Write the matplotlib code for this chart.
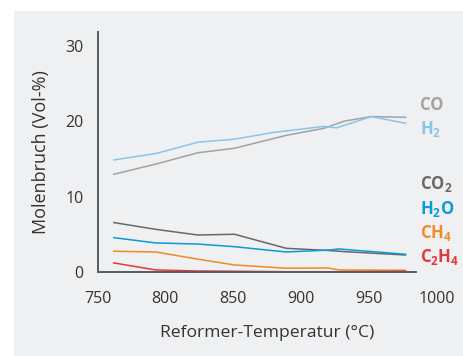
import matplotlib
matplotlib.use("Agg")
import matplotlib.pyplot as plt
from matplotlib.patches import Rectangle

plt.rcParams['font.family'] = ['Open Sans', 'DejaVu Sans']
plt.rcParams['mathtext.fontset'] = 'custom'
plt.rcParams['mathtext.rm'] = 'Open Sans:bold'
plt.rcParams['mathtext.bf'] = 'Open Sans:bold'
plt.rcParams['mathtext.default'] = 'rm'

# Reformer-Temperatur (°C) und Molenbruch (Vol-%)
t_co = [762, 793, 824, 851, 889, 917, 932, 952, 977]
co = [12.95, 14.3, 15.8, 16.4, 18.1, 19.05, 20.0, 20.6, 20.5]

t_h2 = [762, 793, 824, 851, 880, 917, 926, 952, 977]
h2 = [14.85, 15.7, 17.2, 17.6, 18.5, 19.3, 19.1, 20.6, 19.7]

t_co2 = [762, 793, 824, 851, 889, 920, 932, 977]
co2 = [6.55, 5.65, 4.9, 5.0, 3.14, 2.85, 2.7, 2.25]

t_h2o = [762, 793, 824, 851, 889, 920, 928, 977]
h2o = [4.55, 3.85, 3.7, 3.35, 2.65, 2.9, 3.05, 2.35]

t_ch4 = [762, 793, 824, 851, 889, 920, 928, 977]
ch4 = [2.75, 2.65, 1.7, 0.93, 0.5, 0.53, 0.27, 0.23]

t_c2h4 = [762, 793, 824, 851, 889, 920, 977]
c2h4 = [1.2, 0.27, 0.13, 0.1, 0.03, 0.03, 0.1]

x_ticks = [750, 800, 850, 900, 950, 1000]
y_ticks = [0, 10, 20, 30]

labels = ["CO", "H$_2$", "CO$_2$", "H$_2$O", "CH$_4$", "C$_2$H$_4$"]
label_y = [22.1, 19.0, 11.7, 8.4, 5.2, 2.0]
colors = ["#a2a2a2", "#86c6ea", "#686868", "#0b9ad7", "#f08a24", "#e5383b"]

fig = plt.figure(figsize=(4.63, 3.56), dpi=100)
fig.patches.append(Rectangle((14 / 463, 0), 1, 1 - 11 / 356, transform=fig.transFigure,
                             facecolor="#eff0f2", edgecolor="none", zorder=-10))
ax = fig.add_axes([0.2106, 0.236, 0.7326, 0.674])
ax.set_facecolor("none")

series = [(t_co, co), (t_h2, h2), (t_co2, co2), (t_h2o, h2o), (t_ch4, ch4), (t_c2h4, c2h4)]
for (tx, vy), c in zip(series, colors):
    ax.plot(tx, vy, color=c, lw=1.1, solid_joinstyle="round")

for lab, ly, c in zip(labels, label_y, colors):
    ax.text(988, ly, lab, color=c, fontsize=12, fontweight="bold", va="center", ha="left")

ax.set_xlim(750, 1000)
ax.set_ylim(0, 31.8)
ax.set_xticks(x_ticks)
ax.set_yticks(y_ticks)
ax.tick_params(length=0, labelsize=11.5, labelcolor="#333333")
ax.tick_params(axis="x", pad=14)
ax.tick_params(axis="y", pad=10)
for s in ["top", "right"]:
    ax.spines[s].set_visible(False)
for s in ["left", "bottom"]:
    ax.spines[s].set_color("#5a5a62")
    ax.spines[s].set_linewidth(1.4)
ax.spines["bottom"].set_bounds(750, 985)

ax.set_xlabel("Reformer-Temperatur (°C)", fontsize=12.6, color="#333333", labelpad=13)
ax.set_ylabel("Molenbruch (Vol-%)", fontsize=13, color="#333333", labelpad=11)

fig.savefig("out.png", dpi=100)
